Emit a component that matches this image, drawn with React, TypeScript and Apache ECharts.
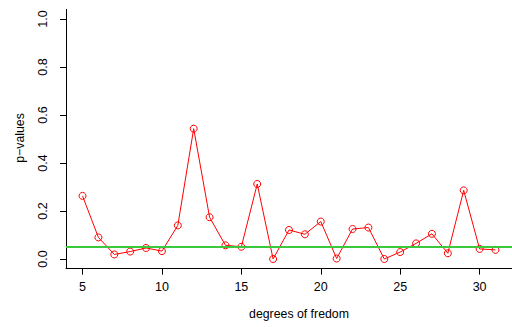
import React, { useEffect, useRef } from "react";
import * as echarts from "echarts";

const degrees = [5, 6, 7, 8, 9, 10, 11, 12, 13, 14, 15, 16, 17, 18, 19, 20, 21, 22, 23, 24, 25, 26, 27, 28, 29, 30, 31];
const pValues = [0.263, 0.09, 0.019, 0.031, 0.046, 0.033, 0.14, 0.543, 0.174, 0.057, 0.051, 0.3125, 0.0, 0.121, 0.103, 0.156, 0.002, 0.125, 0.131, 0.0, 0.029, 0.065, 0.105, 0.024, 0.286, 0.042, 0.038];
const xTicks = [5, 10, 15, 20, 25, 30];
const yTicks = [0, 0.2, 0.4, 0.6, 0.8, 1.0];
const threshold = 0.05;
const xLabel = "degrees of fredom";
const yLabel = "p\u2212values";

const FONT = "'Liberation Sans', Arial, Helvetica, sans-serif";

export default function App() {
  const ref = useRef<HTMLDivElement>(null);
  useEffect(() => {
    if (!ref.current) return;
    const chart = echarts.init(ref.current, null, { renderer: "svg" });
    const xMin = 5 - 0.04 * 26;
    const xMax = 31 + 0.04 * 26;
    const yMin = -0.04;
    const yMax = 1.04;
    chart.setOption({
      animation: false,
      backgroundColor: "#ffffff",
      grid: { left: 66, right: -1, top: 9.4, bottom: 58.4, containLabel: false },
      xAxis: {
        type: "value",
        min: xMin,
        max: xMax,
        splitLine: { show: false },
        axisLine: { show: true, onZero: false, lineStyle: { color: "#000", width: 1 } },
        axisTick: { show: true, customValues: xTicks, length: 6, lineStyle: { color: "#000" } },
        axisLabel: { customValues: xTicks, margin: 12, color: "#000", fontFamily: FONT, fontSize: 12.5 },
      },
      yAxis: {
        type: "value",
        min: yMin,
        max: yMax,
        splitLine: { show: false },
        axisLine: { show: true, onZero: false, lineStyle: { color: "#000", width: 1 } },
        axisTick: { show: true, customValues: yTicks, length: 6, lineStyle: { color: "#000" } },
        axisLabel: {
          customValues: yTicks,
          rotate: 90,
          margin: 17,
          color: "#000",
          fontFamily: FONT,
          fontSize: 12.5,
          formatter: (v: number) => v.toFixed(1),
        },
      },
      graphic: [
        {
          type: "text",
          x: 299,
          y: 314,
          style: { text: xLabel, font: `12.3px ${FONT}`, fill: "#000", textAlign: "center", textVerticalAlign: "middle" },
        },
        {
          type: "text",
          x: 20,
          y: 138,
          rotation: Math.PI / 2,
          style: { text: yLabel, font: `12.3px ${FONT}`, fill: "#000", textAlign: "center", textVerticalAlign: "middle" },
        },
      ],
      series: [
        {
          type: "line",
          data: degrees.map((d, i) => [d, pValues[i]]),
          symbol: "circle",
          symbolSize: 7,
          showSymbol: true,
          lineStyle: { color: "#ff0000", width: 1 },
          itemStyle: { color: "rgba(0,0,0,0)", borderColor: "#ff0000", borderWidth: 1 },
          z: 3,
          markLine: {
            silent: true,
            symbol: "none",
            label: { show: false },
            lineStyle: { color: "#3cc83c", width: 2, type: "solid" },
            data: [{ yAxis: threshold }],
          },
        },
      ],
    });
    return () => chart.dispose();
  }, []);
  return <div ref={ref} style={{ position: "absolute", left: 0, top: 0, width: 512, height: 327 }} />;
}
